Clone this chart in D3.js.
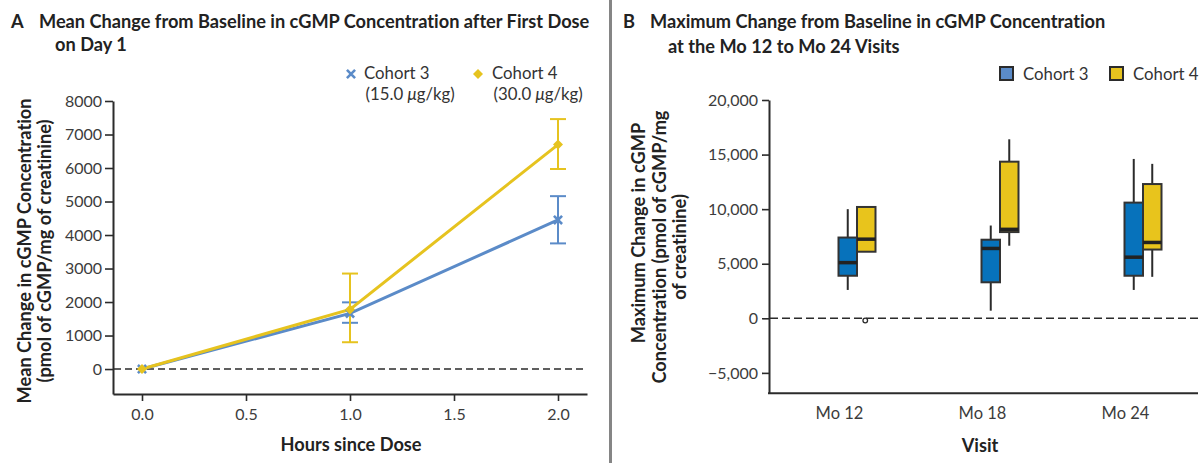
<!DOCTYPE html>
<html>
<head>
<meta charset="utf-8">
<script src="https://cdn.jsdelivr.net/npm/d3@7"></script>
<style>
  html, body { margin: 0; padding: 0; background: #fff; }
  svg { display: block; font-family: Lato, "Open Sans", sans-serif; font-variant-ligatures: none; }
</style>
</head>
<body>
<svg id="chart" width="1200" height="463"></svg>
<script>
// ---- Panel A: mean change after first dose on day 1 ----
const hours = [0, 1, 2];
const cohort3Mean  = [0, 1660, 4450];
const cohort3Upper = [null, 1990, 5160];
const cohort3Lower = [null, 1380, 3750];
const cohort4Mean  = [0, 1780, 6700];
const cohort4Upper = [null, 2850, 7460];
const cohort4Lower = [null, 800, 5970];
const hourTicks = [0, 0.5, 1, 1.5, 2];
const meanTicks = [0, 1000, 2000, 3000, 4000, 5000, 6000, 7000, 8000];

// ---- Panel B: maximum change at Mo 12 to Mo 24 visits ----
const visits = ["Mo 12", "Mo 18", "Mo 24"];
const cohort3Min    = [2600, 700, 2600];
const cohort3Q1     = [3900, 3300, 3900];
const cohort3Median = [5100, 6400, 5600];
const cohort3Q3     = [7400, 7200, 10600];
const cohort3Max    = [10000, 8500, 14600];
const cohort4Min    = [6100, 6650, 3800];
const cohort4Q1     = [6100, 7900, 6300];
const cohort4Median = [7250, 8150, 6950];
const cohort4Q3     = [10200, 14350, 12300];
const cohort4Max    = [10200, 16400, 14150];
const cohort4OutlierVisit = ["Mo 12"];
const cohort4OutlierValue = [-200];
const maxTicks = [-5000, 0, 5000, 10000, 15000, 20000];

const C3_LINE = "#5b8bc8", C4_LINE = "#e6c31f";
const C3_BOX = "#0772bb", C4_BOX = "#e8c41c";
const INK = "#2b2b2b", TICK_TEXT = "#3c3c3c";
const TITLE_SIZE = 18.2, AXIS_TITLE_SIZE = 18.2, TICK_SIZE = 16, LEGEND_SIZE = 16.8;

const svg = d3.select("#chart");

// marker shapes: blue X, yellow diamond (square turned 45 degrees)
function drawMarker(g, kind, x, y, color) {
  if (kind === "x") {
    return g.append("path").attr("transform", `translate(${x},${y})`)
      .attr("d", d3.symbol(d3.symbolX, 45)()).attr("fill", "none")
      .attr("stroke", color).attr("stroke-width", 2.6);
  }
  return g.append("path").attr("transform", `translate(${x},${y}) rotate(45)`)
    .attr("d", d3.symbol(d3.symbolSquare, 50)()).attr("fill", color);
}

// separator between panels
svg.append("line").attr("x1", 610.5).attr("x2", 610.5).attr("y1", 0).attr("y2", 463)
  .attr("stroke", "#858585").attr("stroke-width", 3);

// ---------------- Panel A ----------------
const gA = svg.append("g");
const xA = d3.scaleLinear().domain([-0.1394, 2.1394]).range([113, 587]);
const yA = d3.scaleLinear().domain([-745, 8000]).range([394, 101]);

// titles
const titleA = gA.append("text").attr("font-weight", 700).attr("font-size", TITLE_SIZE).attr("fill", "#222");
titleA.append("tspan").attr("x", 11).attr("y", 28).text("A");
titleA.append("tspan").attr("x", 39).attr("y", 28).text("Mean Change from Baseline in cGMP Concentration after First Dose");
titleA.append("tspan").attr("x", 55).attr("y", 51).text("on Day 1");

// axes
const axisAy = gA.append("g").attr("transform", "translate(113,0)")
  .call(d3.axisLeft(yA).tickValues(meanTicks).tickFormat(d3.format("d")).tickSize(8).tickSizeOuter(0).tickPadding(3));
const axisAx = gA.append("g").attr("transform", "translate(0,394)")
  .call(d3.axisBottom(xA).tickValues(hourTicks).tickFormat(d3.format(".1f")).tickSize(7).tickSizeOuter(0).tickPadding(8));
[axisAy, axisAx].forEach(a => {
  a.select(".domain").attr("stroke", INK).attr("stroke-width", 2);
  a.selectAll(".tick line").attr("stroke", INK).attr("stroke-width", 1.6);
  a.selectAll(".tick text").attr("font-size", TICK_SIZE).attr("fill", TICK_TEXT).attr("font-family", "Lato, sans-serif");
});

// zero reference line
gA.append("line").attr("x1", 114).attr("x2", 587).attr("y1", yA(0)).attr("y2", yA(0))
  .attr("stroke", INK).attr("stroke-width", 1.6).attr("stroke-dasharray", "7,4");

// axis titles
gA.append("text").attr("x", 351).attr("y", 451).attr("text-anchor", "middle")
  .attr("font-weight", 700).attr("font-size", AXIS_TITLE_SIZE).attr("fill", "#222").text("Hours since Dose");
const yTitleA = gA.append("text").attr("transform", "translate(0,251) rotate(-90)")
  .attr("text-anchor", "middle").attr("font-weight", 700).attr("font-size", AXIS_TITLE_SIZE).attr("fill", "#222");
yTitleA.append("tspan").attr("x", 0).attr("y", 31).text("Mean Change in cGMP Concentration");
yTitleA.append("tspan").attr("x", 0).attr("y", 50.5).text("(pmol of cGMP/mg of creatinine)");

// series
const seriesA = [
  { color: C3_LINE, mean: cohort3Mean, up: cohort3Upper, lo: cohort3Lower, marker: "x" },
  { color: C4_LINE, mean: cohort4Mean, up: cohort4Upper, lo: cohort4Lower, marker: "diamond" }
];
const lineA = d3.line().x((d, i) => xA(hours[i])).y(d => yA(d));
seriesA.forEach(s => {
  const g = gA.append("g");
  g.append("path").datum(s.mean).attr("d", lineA).attr("fill", "none")
    .attr("stroke", s.color).attr("stroke-width", 3);
  hours.forEach((h, i) => {
    if (s.up[i] == null) return;
    const x = xA(h);
    g.append("line").attr("x1", x).attr("x2", x).attr("y1", yA(s.up[i])).attr("y2", yA(s.lo[i]))
      .attr("stroke", s.color).attr("stroke-width", 2);
    [s.up[i], s.lo[i]].forEach(v => {
      g.append("line").attr("x1", x - 8).attr("x2", x + 8).attr("y1", yA(v)).attr("y2", yA(v))
        .attr("stroke", s.color).attr("stroke-width", 2);
    });
  });
});
seriesA.forEach(s => {
  hours.forEach((h, i) => drawMarker(gA, s.marker, xA(h), yA(s.mean[i]), s.color));
});

// legend A
const legA = gA.append("g").attr("font-size", LEGEND_SIZE).attr("fill", "#333");
drawMarker(legA, "x", 351, 74, C3_LINE);
drawMarker(legA, "diamond", 478, 74, C4_LINE);
[["Cohort 3", "(15.0 ", 364], ["Cohort 4", "(30.0 ", 492]].forEach(([name, dose, x]) => {
  legA.append("text").attr("x", x).attr("y", 79).text(name);
  const t = legA.append("text").attr("x", x + 1.5).attr("y", 100);
  t.append("tspan").text(dose);
  t.append("tspan").attr("font-style", "italic").text("\u03bc");
  t.append("tspan").text("g/kg)");
});

// ---------------- Panel B ----------------
const gB = svg.append("g");
const yB = d3.scaleLinear().domain([-6870, 20000]).range([393.3, 100]);
const xB = d3.scalePoint().domain(visits).range([857, 1143]);
const boxW = 18.5;

const titleB = gB.append("text").attr("font-weight", 700).attr("font-size", TITLE_SIZE).attr("fill", "#222");
titleB.append("tspan").attr("x", 623).attr("y", 28).text("B");
titleB.append("tspan").attr("x", 650).attr("y", 28).text("Maximum Change from Baseline in cGMP Concentration");
titleB.append("tspan").attr("x", 668).attr("y", 53).text("at the Mo 12 to Mo 24 Visits");

const axisBy = gB.append("g").attr("transform", "translate(769,0)")
  .call(d3.axisLeft(yB).tickValues(maxTicks).tickFormat(d3.format(",")).tickSize(7).tickSizeOuter(0).tickPadding(4));
axisBy.select(".domain").attr("stroke", INK).attr("stroke-width", 2);
axisBy.selectAll(".tick line").attr("stroke", INK).attr("stroke-width", 1.6);
axisBy.selectAll(".tick text").attr("font-size", TICK_SIZE).attr("fill", TICK_TEXT).attr("font-family", "Lato, sans-serif");

const axisBx = gB.append("g").attr("transform", "translate(0,393.3)")
  .call(d3.axisBottom(xB).tickSize(0).tickPadding(14));
axisBx.select(".domain").remove();
axisBx.selectAll(".tick text").attr("dx", -18).attr("font-size", 16.5).attr("fill", TICK_TEXT).attr("font-family", "Lato, sans-serif");
gB.append("line").attr("x1", 768).attr("x2", 1198).attr("y1", 393.3).attr("y2", 393.3)
  .attr("stroke", INK).attr("stroke-width", 2);

gB.append("line").attr("x1", 770).attr("x2", 1198).attr("y1", yB(0)).attr("y2", yB(0))
  .attr("stroke", INK).attr("stroke-width", 1.6).attr("stroke-dasharray", "8,4");

gB.append("text").attr("x", 980).attr("y", 452).attr("text-anchor", "middle")
  .attr("font-weight", 700).attr("font-size", AXIS_TITLE_SIZE).attr("fill", "#222").text("Visit");
const yTitleB = gB.append("text").attr("transform", "translate(0,247) rotate(-90)")
  .attr("text-anchor", "middle").attr("font-weight", 700).attr("font-size", AXIS_TITLE_SIZE).attr("fill", "#222");
yTitleB.append("tspan").attr("x", 14).attr("y", 645).text("Maximum Change in cGMP");
yTitleB.append("tspan").attr("x", 0).attr("y", 665.5).text("Concentration (pmol of cGMP/mg");
yTitleB.append("tspan").attr("x", 0).attr("y", 686).text("of creatinine)");

// legend B
const legB = gB.append("g").attr("font-size", LEGEND_SIZE).attr("fill", "#333");
[[C3_LINE, "Cohort 3", 999], [C4_LINE, "Cohort 4", 1109]].forEach(([c, name, x]) => {
  legB.append("rect").attr("x", x + 1).attr("y", 67).attr("width", 13).attr("height", 13)
    .attr("fill", c).attr("stroke", INK).attr("stroke-width", 2);
  legB.append("text").attr("x", x + 24).attr("y", 80).text(name);
});

// boxes
const boxSeries = [
  { color: C3_BOX, offset: -boxW / 2, min: cohort3Min, q1: cohort3Q1, med: cohort3Median, q3: cohort3Q3, max: cohort3Max },
  { color: C4_BOX, offset: boxW / 2, min: cohort4Min, q1: cohort4Q1, med: cohort4Median, q3: cohort4Q3, max: cohort4Max }
];
boxSeries.forEach(s => {
  visits.forEach((v, i) => {
    const cx = xB(v) + s.offset;
    const g = gB.append("g");
    g.append("line").attr("x1", cx).attr("x2", cx).attr("y1", yB(s.max[i])).attr("y2", yB(s.q3[i]))
      .attr("stroke", INK).attr("stroke-width", 2);
    g.append("line").attr("x1", cx).attr("x2", cx).attr("y1", yB(s.q1[i])).attr("y2", yB(s.min[i]))
      .attr("stroke", INK).attr("stroke-width", 2);
    g.append("rect").attr("x", cx - boxW / 2).attr("y", yB(s.q3[i]))
      .attr("width", boxW).attr("height", yB(s.q1[i]) - yB(s.q3[i]))
      .attr("fill", s.color).attr("stroke", "#333").attr("stroke-width", 2);
    g.append("line").attr("x1", cx - boxW / 2).attr("x2", cx + boxW / 2)
      .attr("y1", yB(s.med[i])).attr("y2", yB(s.med[i]))
      .attr("stroke", "#222").attr("stroke-width", 3.5);
  });
});
cohort4OutlierVisit.forEach((v, i) => {
  gB.append("circle").attr("cx", xB(v) + boxW / 2 - 1).attr("cy", yB(cohort4OutlierValue[i]))
    .attr("r", 2.3).attr("fill", "#fff").attr("stroke", INK).attr("stroke-width", 1.3);
});
</script>
</body>
</html>
